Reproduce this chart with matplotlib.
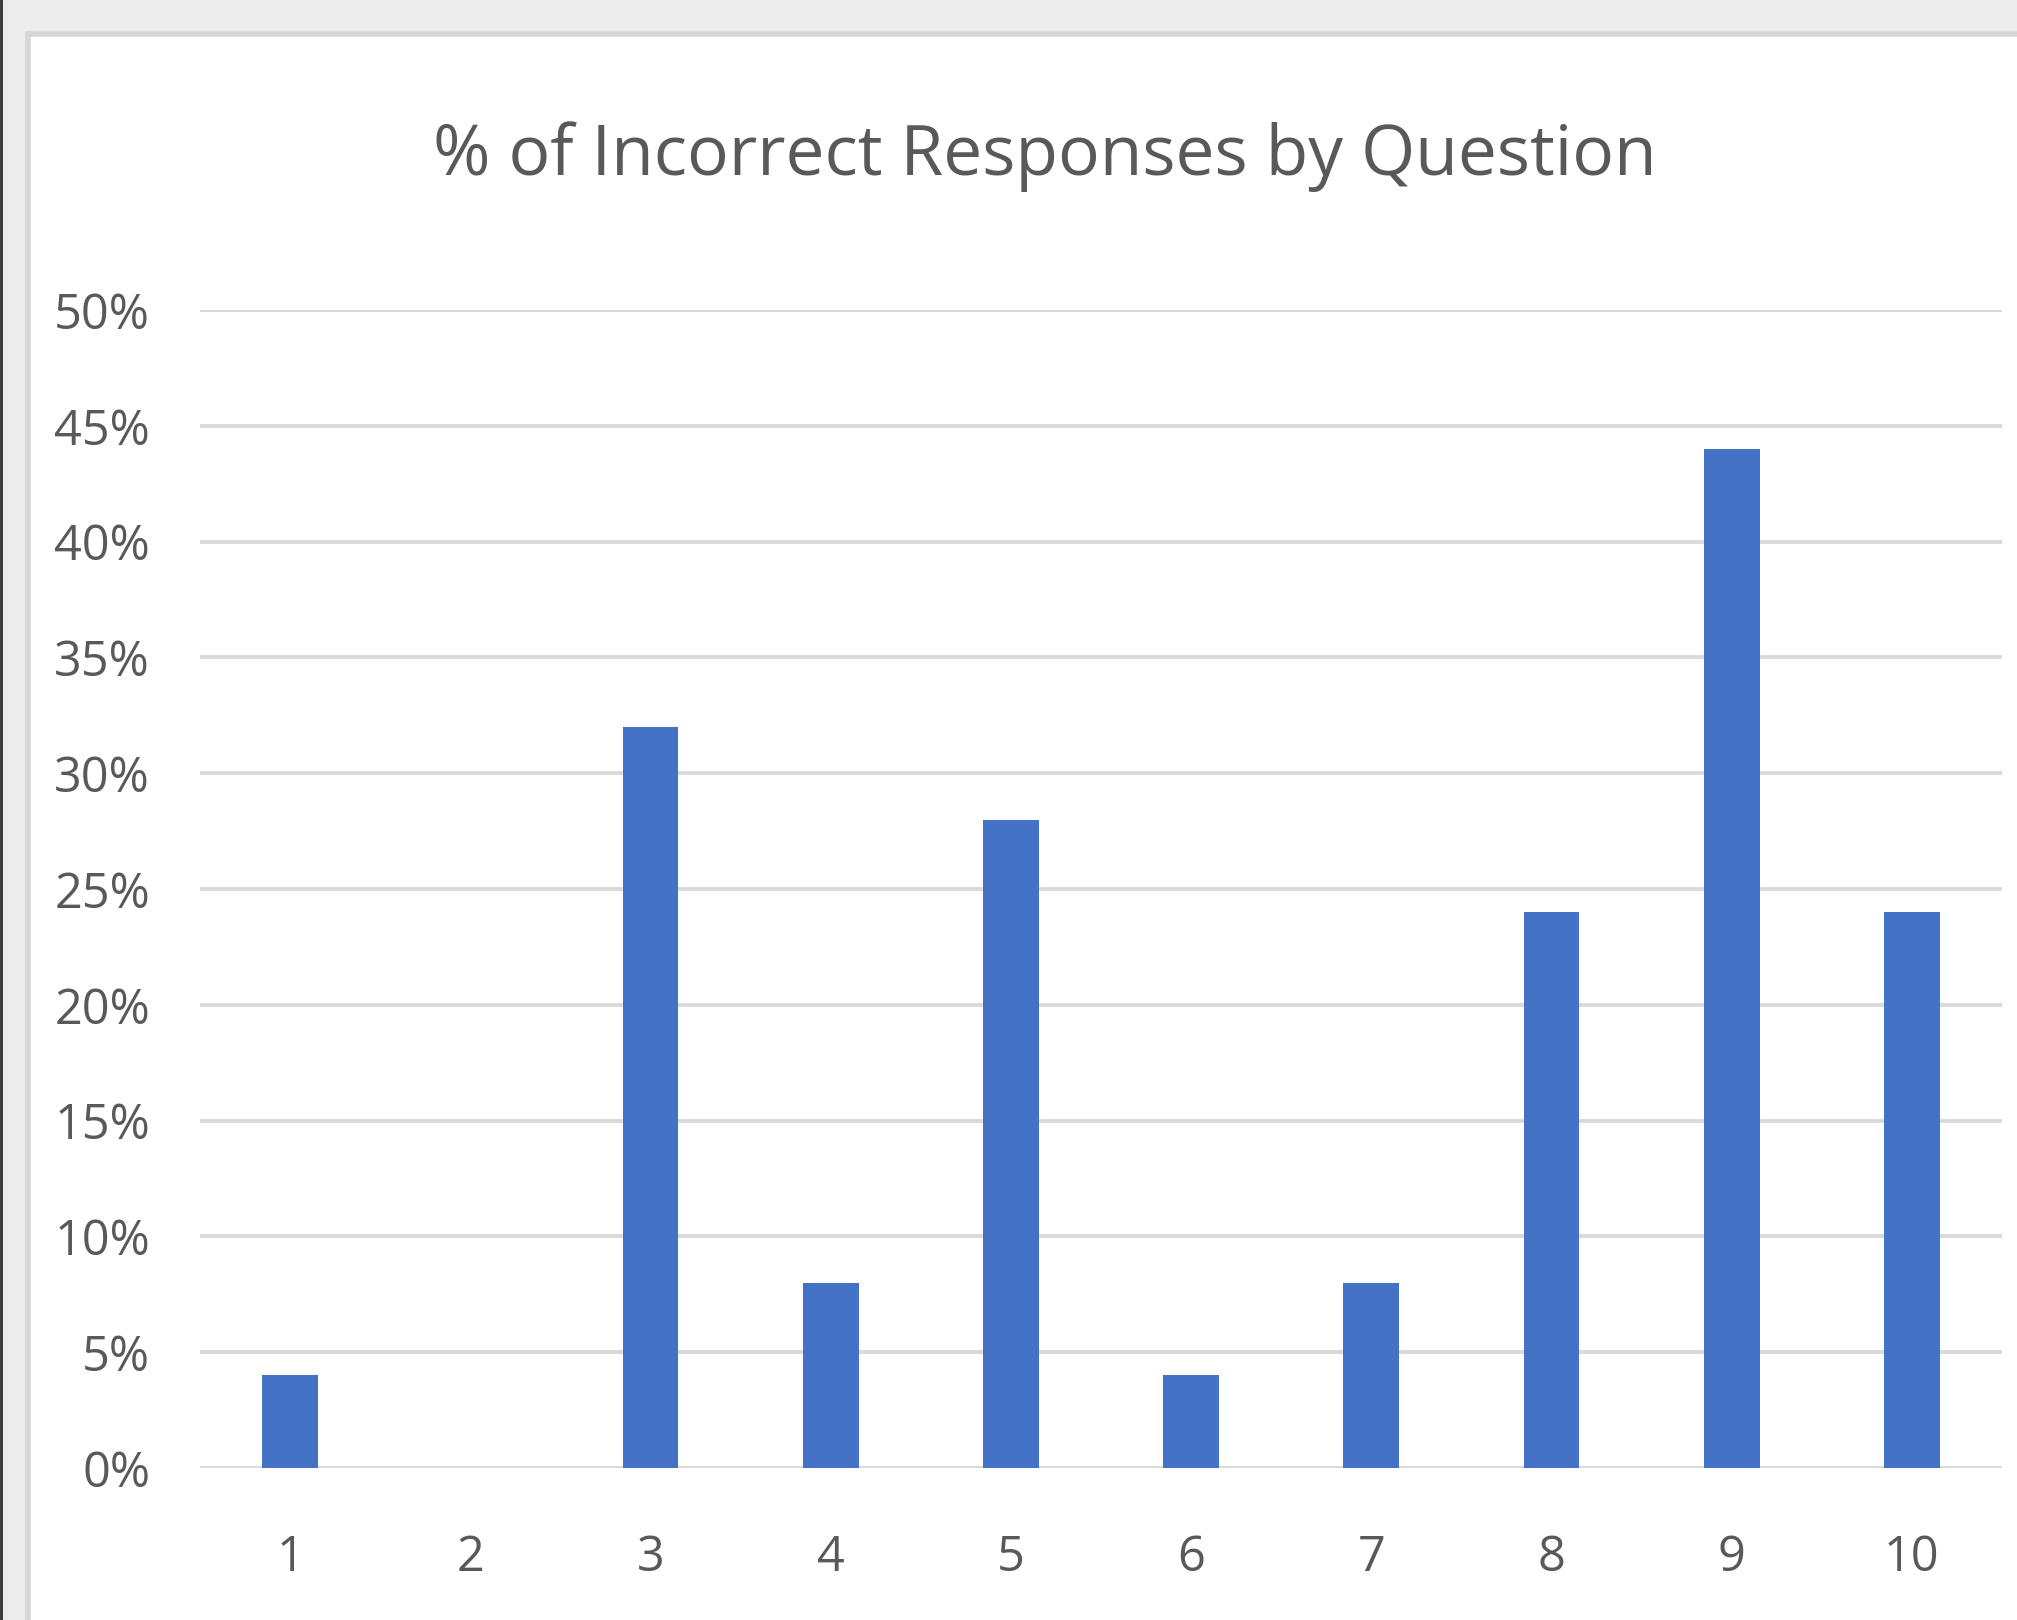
import matplotlib
matplotlib.use("Agg")
import matplotlib.pyplot as plt
from matplotlib import font_manager
from matplotlib.patches import Rectangle

questions = ["1", "2", "3", "4", "5", "6", "7", "8", "9", "10"]
pct_incorrect = [0.04, 0.00, 0.32, 0.08, 0.28, 0.04, 0.08, 0.24, 0.44, 0.24]
y_ticks = [0.0, 0.05, 0.10, 0.15, 0.20, 0.25, 0.30, 0.35, 0.40, 0.45, 0.50]

# pick a narrow-ish humanist font if one is there
names = {f.name for f in font_manager.fontManager.ttflist}
font = "DejaVu Sans"
for cand in ["Liberation Sans Narrow", "DejaVu Sans Condensed", "Open Sans"]:
    if cand in names:
        font = cand
        break
plt.rcParams["font.family"] = [font, "DejaVu Sans"]

W, H = 2017, 1620
fig = plt.figure(figsize=(W / 100, H / 100), dpi=100, facecolor="#ececec")

# white chart area with grey frame, dark strip at the far left
fig.patches.append(Rectangle((28 / W, -0.01), 1, (H - 34) / H + 0.01, transform=fig.transFigure,
                             facecolor="white", edgecolor="#d6d6d6", linewidth=4, zorder=-10))
fig.patches.append(Rectangle((0, 0), 2.5 / W, 1, transform=fig.transFigure,
                             facecolor="#3c3c3c", edgecolor="none", zorder=-9))

ax = fig.add_axes([200 / W, (H - 1468) / H, (2002 - 200) / W, (1468 - 310) / H])
ax.set_facecolor("none")

x = list(range(len(questions)))
ax.bar(x, pct_incorrect, width=0.31, color="#4472c4", zorder=3)

ax.set_xlim(-0.5, len(questions) - 0.5)
ax.set_ylim(0, 0.5)
ax.set_yticks(y_ticks)
ax.set_yticklabels([f"{round(v * 100)}%" for v in y_ticks])
ax.set_xticks(x)
ax.set_xticklabels(questions)
ax.yaxis.grid(True, color="#d9d9d9", linewidth=2.8, zorder=0)
ax.xaxis.grid(False)
for s in ax.spines.values():
    s.set_visible(False)
ax.tick_params(axis="both", length=0, labelsize=35, colors="#595959")
ax.tick_params(axis="y", pad=36)
ax.tick_params(axis="x", pad=47)

fig.text((441 + 1649) / 2 / W, 1 - 157 / H, "% of Incorrect Responses by Question",
         ha="center", va="center", fontsize=50, color="#595959")

fig.savefig("out.png", dpi=100, facecolor=fig.get_facecolor())
